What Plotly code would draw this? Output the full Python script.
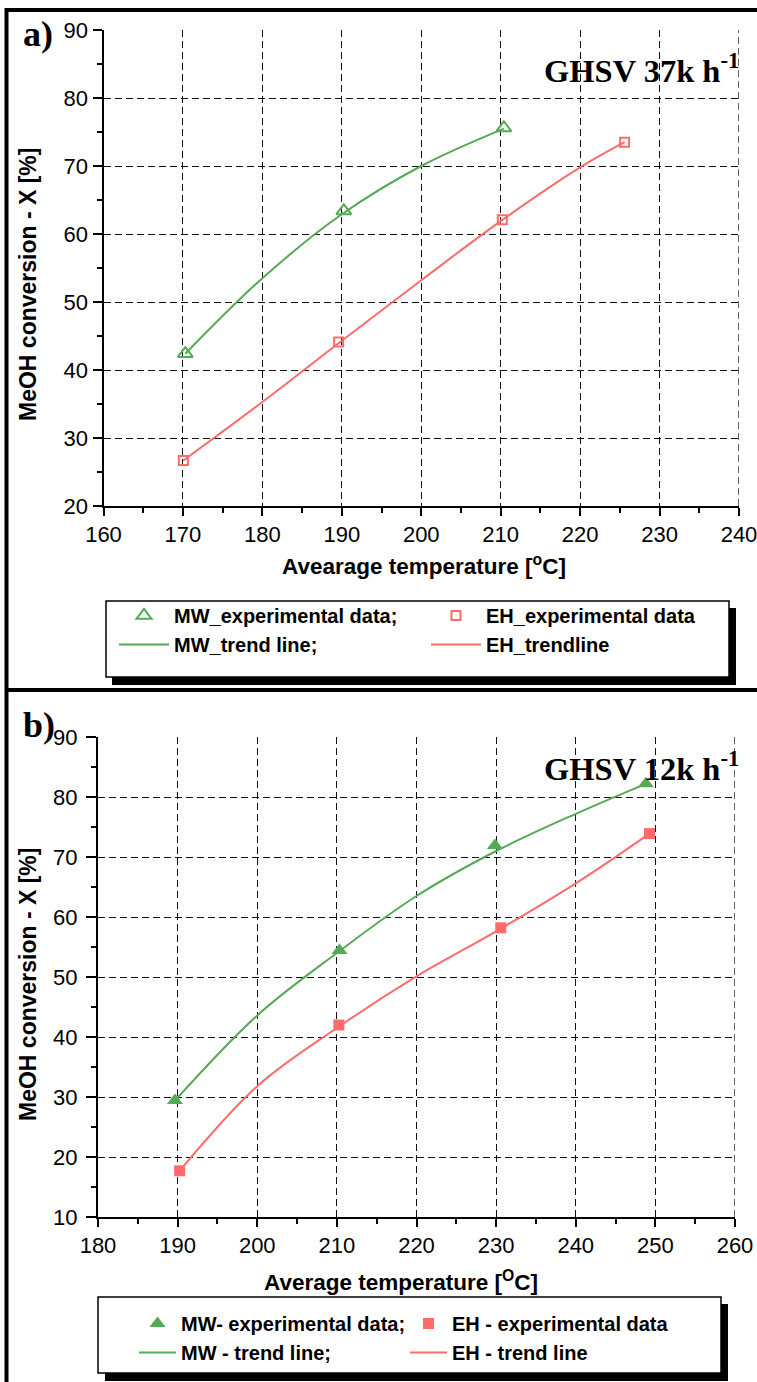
import plotly.graph_objects as go

W, H = 757, 1382

# ---------------- data ----------------
# panel a) GHSV 37k h-1
a_mw_T = [170.3, 190.25, 210.4]
a_mw_X = [42.4, 63.4, 75.6]
a_eh_T = [170.05, 189.6, 210.2, 225.6]
a_eh_X = [26.7, 44.1, 62.1, 73.5]
a_mw_trend_T = [170.3, 180, 190, 200, 210.4]
a_mw_trend_X = [42.4, 53.5, 62.9, 70.0, 75.5]
a_eh_trend_T = [170.05, 180, 190, 200, 210, 220, 225.6]
a_eh_trend_X = [26.7, 35.3, 44.3, 53.2, 61.9, 69.8, 73.5]

# panel b) GHSV 12k h-1
b_mw_T = [189.66, 210.33, 229.85, 248.8]
b_mw_X = [29.4, 54.4, 71.9, 82.2]
b_eh_T = [190.25, 210.25, 230.58, 249.26]
b_eh_X = [17.7, 42.0, 58.2, 73.9]
b_mw_trend_T = [189.66, 200, 210, 220, 230, 240, 248.8]
b_mw_trend_X = [29.4, 43.6, 54.0, 63.5, 71.0, 77.2, 82.2]
b_eh_trend_T = [190.25, 200, 210, 220, 230, 240, 249.26]
b_eh_trend_X = [17.7, 31.8, 41.5, 50.1, 57.6, 65.6, 73.9]

a_xrange = [160, 240]
a_yrange = [20, 90]
b_xrange = [180, 260]
b_yrange = [10, 90]

GREEN = "#55aa55"
RED = "#ff6b6b"


def px(x):
    return x / W


def py(y):
    return 1 - y / H


fig = go.Figure()

# ---- panel a traces
fig.add_trace(go.Scatter(x=a_mw_T, y=a_mw_X, mode="markers", name="MW_experimental data;",
                         marker=dict(symbol="triangle-up-open", size=13, color=GREEN, line=dict(width=2)),
                         xaxis="x", yaxis="y", legend="legend"))
fig.add_trace(go.Scatter(x=a_eh_T, y=a_eh_X, mode="markers", name="EH_experimental data",
                         marker=dict(symbol="square-open", size=9, color=RED, line=dict(width=2)),
                         xaxis="x", yaxis="y", legend="legend"))
fig.add_trace(go.Scatter(x=a_mw_trend_T, y=a_mw_trend_X, mode="lines", name="MW_trend line;",
                         line=dict(color=GREEN, width=2, shape="spline", smoothing=1),
                         xaxis="x", yaxis="y", legend="legend"))
fig.add_trace(go.Scatter(x=a_eh_trend_T, y=a_eh_trend_X, mode="lines", name="EH_trendline",
                         line=dict(color=RED, width=2, shape="spline", smoothing=1),
                         xaxis="x", yaxis="y", legend="legend"))

# ---- panel b traces
fig.add_trace(go.Scatter(x=b_mw_T, y=b_mw_X, mode="markers", name="MW- experimental data;",
                         marker=dict(symbol="triangle-up", size=14, color=GREEN),
                         xaxis="x2", yaxis="y2", legend="legend2"))
fig.add_trace(go.Scatter(x=b_eh_T, y=b_eh_X, mode="markers", name="EH - experimental data",
                         marker=dict(symbol="square", size=11, color=RED),
                         xaxis="x2", yaxis="y2", legend="legend2"))
fig.add_trace(go.Scatter(x=b_mw_trend_T, y=b_mw_trend_X, mode="lines", name="MW - trend line;",
                         line=dict(color=GREEN, width=2, shape="spline", smoothing=1),
                         xaxis="x2", yaxis="y2", legend="legend2"))
fig.add_trace(go.Scatter(x=b_eh_trend_T, y=b_eh_trend_X, mode="lines", name="EH - trend line",
                         line=dict(color=RED, width=2, shape="spline", smoothing=1),
                         xaxis="x2", yaxis="y2", legend="legend2"))

GRIDCOLOR = "#111"
GRIDW = 1.3
GRIDDASH = "7px,4px"
TICKFONT = dict(family="Liberation Sans, Arial, sans-serif", size=22, color="black")
MINOR = dict(dtick=5, ticklen=5, ticks="outside", tickcolor="black", tickwidth=2, showgrid=False)
common = dict(showline=True, linecolor="black", linewidth=2, ticks="outside", tickwidth=2,
              tickcolor="black", tickfont=TICKFONT, zeroline=False, mirror=False,
              automargin=False, ticklabeloverflow="allow", minor=MINOR,
              showgrid=True, gridcolor=GRIDCOLOR, gridwidth=GRIDW, griddash=GRIDDASH)

LEGFONT = dict(family="Liberation Sans, Arial, sans-serif", size=20, color="black", weight="bold")
fig.update_layout(
    template="none",
    width=W, height=H,
    margin=dict(l=0, r=0, t=0, b=0, pad=0, autoexpand=False),
    paper_bgcolor="white", plot_bgcolor="white",
    xaxis=dict(domain=[px(103.5), px(739)], range=a_xrange, dtick=10, ticklen=8, anchor="y", **common),
    yaxis=dict(domain=[py(506), py(30)], range=a_yrange, dtick=10, ticklen=9, anchor="x", **common),
    xaxis2=dict(domain=[px(98), px(735)], range=b_xrange, dtick=10, ticklen=8, anchor="y2", **common),
    yaxis2=dict(domain=[py(1217), py(737)], range=b_yrange, dtick=10, ticklen=10, anchor="x2",
                ticklabelstandoff=4, **common),
    legend=dict(orientation="h", x=px(114), y=py(596), xanchor="left", yanchor="top",
                entrywidth=247, itemwidth=50, bgcolor="rgba(0,0,0,0)", borderwidth=0,
                font=LEGFONT, traceorder="normal"),
    legend2=dict(orientation="h", x=px(134), y=py(1304), xanchor="left", yanchor="top",
                 entrywidth=219, itemwidth=37, bgcolor="rgba(0,0,0,0)", borderwidth=0,
                 font=LEGFONT, traceorder="normal"),
    showlegend=True,
)

LBL_Y = dict(family="Liberation Sans, Arial, sans-serif", size=23, color="black", weight="bold")
LBL_X = dict(family="Liberation Sans, Arial, sans-serif", size=22.5, color="black", weight="bold")
SERIF = dict(family="Liberation Serif, Times New Roman, serif", size=32.5, color="black", weight="bold")
annos = [
    dict(text="MeOH conversion - X [%]", x=px(28), y=py(285), textangle=-90, font=LBL_Y),
    dict(text="MeOH conversion - X [%]", x=px(28), y=py(985), textangle=-90, font=LBL_Y),
    dict(text="Avearage temperature [<sup>o</sup>C]", x=px(424), y=py(565), font=LBL_X),
    dict(text="Average temperature [<sup>O</sup>C]", x=px(401), y=py(1281), font=LBL_X),
    dict(text="GHSV 37k h<sup>-1</sup>", x=px(741), y=py(69), xanchor="right", font=SERIF),
    dict(text="GHSV 12k h<sup>-1</sup>", x=px(741), y=py(766), xanchor="right", font=SERIF),
    dict(text="a)", x=px(21), y=py(34), xanchor="left", font=dict(SERIF, size=36)),
    dict(text="b)", x=px(21), y=py(725), xanchor="left", font=dict(SERIF, size=36)),
]
for a in annos:
    a.setdefault("xanchor", "center")
    a.update(xref="paper", yref="paper", yanchor="middle", showarrow=False)
fig.update_layout(annotations=annos)

paper = dict(xref="paper", yref="paper")
shapes = [
    # outer frame
    dict(type="line", x0=px(6.5), x1=px(6.5), y0=py(8), y1=py(1382), line=dict(color="black", width=4), **paper),
    dict(type="line", x0=px(5), x1=px(757), y0=py(10), y1=py(10), line=dict(color="black", width=4), **paper),
    dict(type="line", x0=px(5), x1=px(757), y0=py(690), y1=py(690), line=dict(color="black", width=4), **paper),
    # legend a: shadow + box
    dict(type="rect", x0=px(112), x1=px(736), y0=py(608), y1=py(685), fillcolor="black", line=dict(width=0), **paper),
    dict(type="rect", x0=px(106), x1=px(729), y0=py(601), y1=py(677), fillcolor="white",
         line=dict(color="black", width=1.5), **paper),
    # legend b: shadow + box
    dict(type="rect", x0=px(105), x1=px(728), y0=py(1304), y1=py(1381), fillcolor="black", line=dict(width=0), **paper),
    dict(type="rect", x0=px(98), x1=px(721), y0=py(1297), y1=py(1373), fillcolor="white",
         line=dict(color="black", width=1.5), **paper),
    # grid lines at the far end of the x axes
    dict(type="line", xref="x", yref="y domain", x0=a_xrange[1], x1=a_xrange[1], y0=0, y1=1,
         line=dict(color=GRIDCOLOR, width=GRIDW, dash=GRIDDASH), layer="below"),
    dict(type="line", xref="x2", yref="y2 domain", x0=b_xrange[1], x1=b_xrange[1], y0=0, y1=1,
         line=dict(color=GRIDCOLOR, width=GRIDW, dash=GRIDDASH), layer="below"),
]
fig.update_layout(shapes=shapes)

fig.write_html("out.html")
